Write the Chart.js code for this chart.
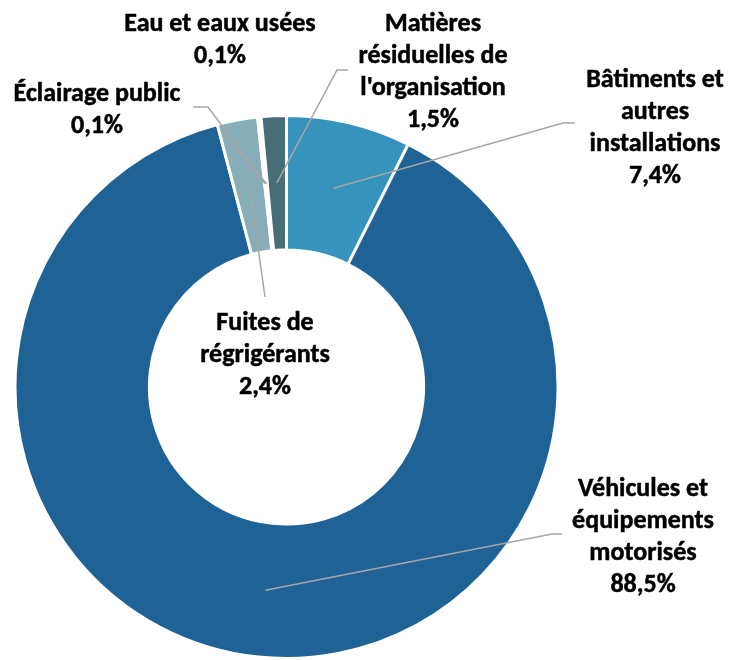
<!DOCTYPE html>
<html>
<head>
<meta charset="utf-8">
<script src="https://cdn.jsdelivr.net/npm/chart.js@4/dist/chart.umd.min.js"></script>
<style>
  html, body { margin: 0; padding: 0; background: #ffffff; }
  #wrap { width: 731px; height: 660px; }
</style>
</head>
<body>
<div id="wrap"><canvas id="c" width="731" height="660"></canvas></div>
<script>
// ---- Data ----
const categories = [
  "Bâtiments et autres installations",
  "Véhicules et équipements motorisés",
  "Fuites de régrigérants",
  "Éclairage public",
  "Eau et eaux usées",
  "Matières résiduelles de l'organisation"
];
const values = [7.4, 88.5, 2.4, 0.1, 0.1, 1.5];
const labelLines = [
  ["Bâtiments et", "autres", "installations"],
  ["Véhicules et", "équipements", "motorisés"],
  ["Fuites de", "régrigérants"],
  ["Éclairage public"],
  ["Eau et eaux usées"],
  ["Matières", "résiduelles de", "l'organisation"]
];
const colors = ["#3593BC", "#1F6396", "#86ADB8", "#6E98A6", "#A9C5CD", "#476D76"];

// ---- Label layout (positions only) ----
const labelLayout = [
  { x: 655, y: 80,  leader: [[575, 123], [563, 123]] },
  { x: 643, y: 489, leader: [[562, 534], [552, 534]] },
  { x: 265, y: 323, leader: [[265, 297]] },
  { x: 97,  y: 94,  leader: [[193, 107], [208, 107]] },
  { x: 220, y: 24,  leader: [[221, 131]] },
  { x: 433, y: 24,  leader: [[348, 70], [337, 70]] }
];
const LINE_H = 32;
const FONT = "bold 26px Carlito, Lato, 'Liberation Sans', sans-serif";

function fmt(v) { return v.toFixed(1).replace('.', ',') + '%'; }

const labelPlugin = {
  id: 'labels',
  afterDatasetsDraw(chart) {
    const ctx = chart.ctx;
    const meta = chart.getDatasetMeta(0);
    ctx.save();
    // leader lines
    ctx.strokeStyle = '#A6A6A6';
    ctx.lineWidth = 1.5;
    meta.data.forEach((arc, i) => {
      const p = arc.getProps(['x', 'y', 'startAngle', 'endAngle', 'innerRadius', 'outerRadius'], true);
      const a = (p.startAngle + p.endAngle) / 2;
      const r = (p.innerRadius + p.outerRadius) / 2;
      const ax = p.x + Math.cos(a) * r;
      const ay = p.y + Math.sin(a) * r;
      const pts = labelLayout[i].leader;
      ctx.beginPath();
      ctx.moveTo(pts[0][0], pts[0][1]);
      for (let k = 1; k < pts.length; k++) ctx.lineTo(pts[k][0], pts[k][1]);
      ctx.lineTo(ax, ay);
      ctx.stroke();
    });
    // texts
    ctx.fillStyle = '#000000';
    ctx.strokeStyle = '#000000';
    ctx.lineWidth = 0.5;
    ctx.lineJoin = 'round';
    ctx.font = FONT;
    ctx.textAlign = 'center';
    ctx.textBaseline = 'middle';
    categories.forEach((c, i) => {
      const lines = labelLines[i].concat([fmt(values[i])]);
      const L = labelLayout[i];
      lines.forEach((t, k) => {
        ctx.fillText(t, L.x, L.y + k * LINE_H);
        ctx.strokeText(t, L.x, L.y + k * LINE_H);
      });
    });
    ctx.restore();
  }
};

new Chart(document.getElementById('c'), {
  type: 'doughnut',
  data: {
    labels: categories,
    datasets: [{
      data: values,
      backgroundColor: colors,
      borderColor: '#ffffff',
      borderWidth: 3,
      hoverOffset: 0
    }]
  },
  options: {
    responsive: false,
    devicePixelRatio: 1,
    animation: false,
    cutout: '50.5%',
    layout: { padding: { left: 13, top: 114, right: 171, bottom: 0 } },
    plugins: {
      legend: { display: false },
      tooltip: { enabled: false }
    }
  },
  plugins: [labelPlugin]
});
</script>
</body>
</html>
